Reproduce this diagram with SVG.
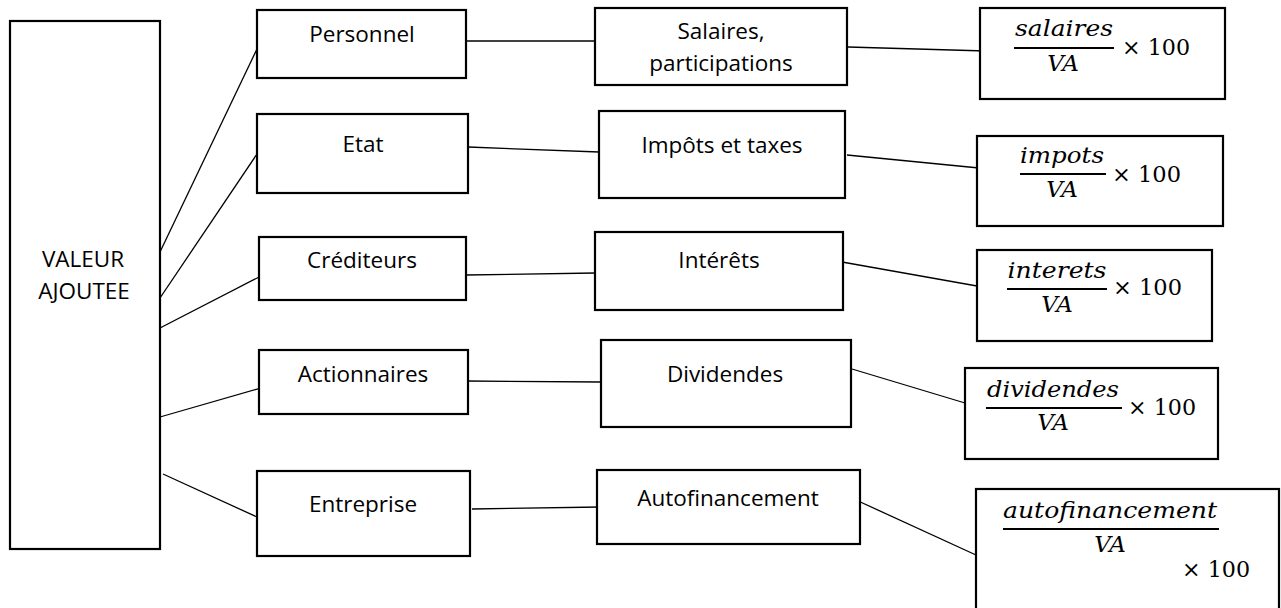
<svg xmlns="http://www.w3.org/2000/svg" width="1281" height="608" viewBox="0 0 1281 608">
<style>
.box{fill:#fff;stroke:#000;stroke-width:2.2}
.lbl{font-family:"Open Sans",Lato,"Liberation Sans",sans-serif;font-size:22.5px;fill:#000;text-anchor:middle}
.m{font-family:"DejaVu Serif","Liberation Serif",serif;font-style:italic;font-size:23px;fill:#000;text-anchor:middle}
.n{font-family:"DejaVu Serif","Liberation Serif",serif;font-size:23px;fill:#000}
.bar{stroke:#000;stroke-width:2}
.c{stroke:#000;stroke-width:1.3;fill:none}
</style>
<rect width="1281" height="608" fill="#fff"/>
<g id="connectors">
<line class="c" x1="160" y1="252" x2="257" y2="49"/>
<line class="c" x1="160" y1="298" x2="257" y2="154"/>
<line class="c" x1="160" y1="328" x2="263" y2="275"/>
<line class="c" x1="160" y1="417" x2="261" y2="388"/>
<line class="c" x1="163" y1="474" x2="257" y2="517"/>
<line class="c" x1="466" y1="41" x2="595" y2="41"/>
<line class="c" x1="468" y1="147" x2="599" y2="152"/>
<line class="c" x1="466" y1="275" x2="595" y2="273"/>
<line class="c" x1="466" y1="381" x2="601" y2="382"/>
<line class="c" x1="472" y1="509" x2="601" y2="507"/>
<line class="c" x1="848" y1="47" x2="986" y2="51"/>
<line class="c" x1="847" y1="155" x2="979" y2="168"/>
<line class="c" x1="842" y1="262" x2="977" y2="286"/>
<line class="c" x1="852" y1="369" x2="975" y2="406"/>
<line class="c" x1="856" y1="500" x2="976" y2="555"/>
</g>
<g id="va">
<rect class="box" x="10" y="21" width="150" height="528"/>
<text class="lbl" x="83" y="267">VALEUR</text>
<text class="lbl" x="84" y="299">AJOUTEE</text>
</g>
<g id="personnel">
<rect class="box" x="257" y="10" width="209" height="68"/>
<text class="lbl" x="362" y="42">Personnel</text>
</g>
<g id="etat">
<rect class="box" x="257" y="114" width="211" height="79"/>
<text class="lbl" x="363" y="152">Etat</text>
</g>
<g id="crediteurs">
<rect class="box" x="259" y="237" width="207" height="63"/>
<text class="lbl" x="362" y="268">Créditeurs</text>
</g>
<g id="actionnaires">
<rect class="box" x="259" y="350" width="209" height="64"/>
<text class="lbl" x="363" y="382">Actionnaires</text>
</g>
<g id="entreprise">
<rect class="box" x="257" y="471" width="213" height="85"/>
<text class="lbl" x="363" y="512">Entreprise</text>
</g>
<g id="salaires">
<rect class="box" x="595" y="8" width="252" height="77"/>
<text class="lbl" x="721" y="39">Salaires,</text>
<text class="lbl" x="721" y="71">participations</text>
</g>
<g id="impots">
<rect class="box" x="599" y="111" width="246" height="87"/>
<text class="lbl" x="722" y="153">Impôts et taxes</text>
</g>
<g id="interets">
<rect class="box" x="595" y="232" width="248" height="78"/>
<text class="lbl" x="719" y="268">Intérêts</text>
</g>
<g id="dividendes">
<rect class="box" x="601" y="340" width="250" height="87"/>
<text class="lbl" x="725" y="382">Dividendes</text>
</g>
<g id="autofinancement">
<rect class="box" x="597" y="470" width="263" height="74"/>
<text class="lbl" x="728" y="506">Autofinancement</text>
</g>
<g id="f-salaires">
<rect class="box" x="980" y="8" width="245" height="91"/>
<text class="m" x="1064" y="36" textLength="98" lengthAdjust="spacingAndGlyphs">salaires</text>
<line class="bar" x1="1014" y1="48" x2="1114" y2="48"/>
<text class="m" x="1063" y="71">VA</text>
<text class="n" x="1122" y="55" textLength="68" lengthAdjust="spacingAndGlyphs">× 100</text>
</g>
<g id="f-impots">
<rect class="box" x="977" y="136" width="246" height="90"/>
<text class="m" x="1062" y="163" textLength="84" lengthAdjust="spacingAndGlyphs">impots</text>
<line class="bar" x1="1020" y1="174" x2="1106" y2="174"/>
<text class="m" x="1062" y="197">VA</text>
<text class="n" x="1112" y="182" textLength="69" lengthAdjust="spacingAndGlyphs">× 100</text>
</g>
<g id="f-interets">
<rect class="box" x="977" y="250" width="235" height="91"/>
<text class="m" x="1057" y="278" textLength="99" lengthAdjust="spacingAndGlyphs">interets</text>
<line class="bar" x1="1007" y1="289" x2="1107" y2="289"/>
<text class="m" x="1057" y="312">VA</text>
<text class="n" x="1113" y="295" textLength="69" lengthAdjust="spacingAndGlyphs">× 100</text>
</g>
<g id="f-dividendes">
<rect class="box" x="965" y="368" width="253" height="91"/>
<text class="m" x="1053" y="397" textLength="132" lengthAdjust="spacingAndGlyphs">dividendes</text>
<line class="bar" x1="986" y1="408" x2="1122" y2="408"/>
<text class="m" x="1053" y="430">VA</text>
<text class="n" x="1128" y="415" textLength="68" lengthAdjust="spacingAndGlyphs">× 100</text>
</g>
<g id="f-autofinancement">
<rect class="box" x="976" y="489" width="303" height="125"/>
<text class="m" x="1110" y="518" textLength="214" lengthAdjust="spacingAndGlyphs">autofinancement</text>
<line class="bar" x1="1003" y1="529" x2="1219" y2="529"/>
<text class="m" x="1110" y="552">VA</text>
<text class="n" x="1182" y="577" textLength="68" lengthAdjust="spacingAndGlyphs">× 100</text>
</g>
</svg>
